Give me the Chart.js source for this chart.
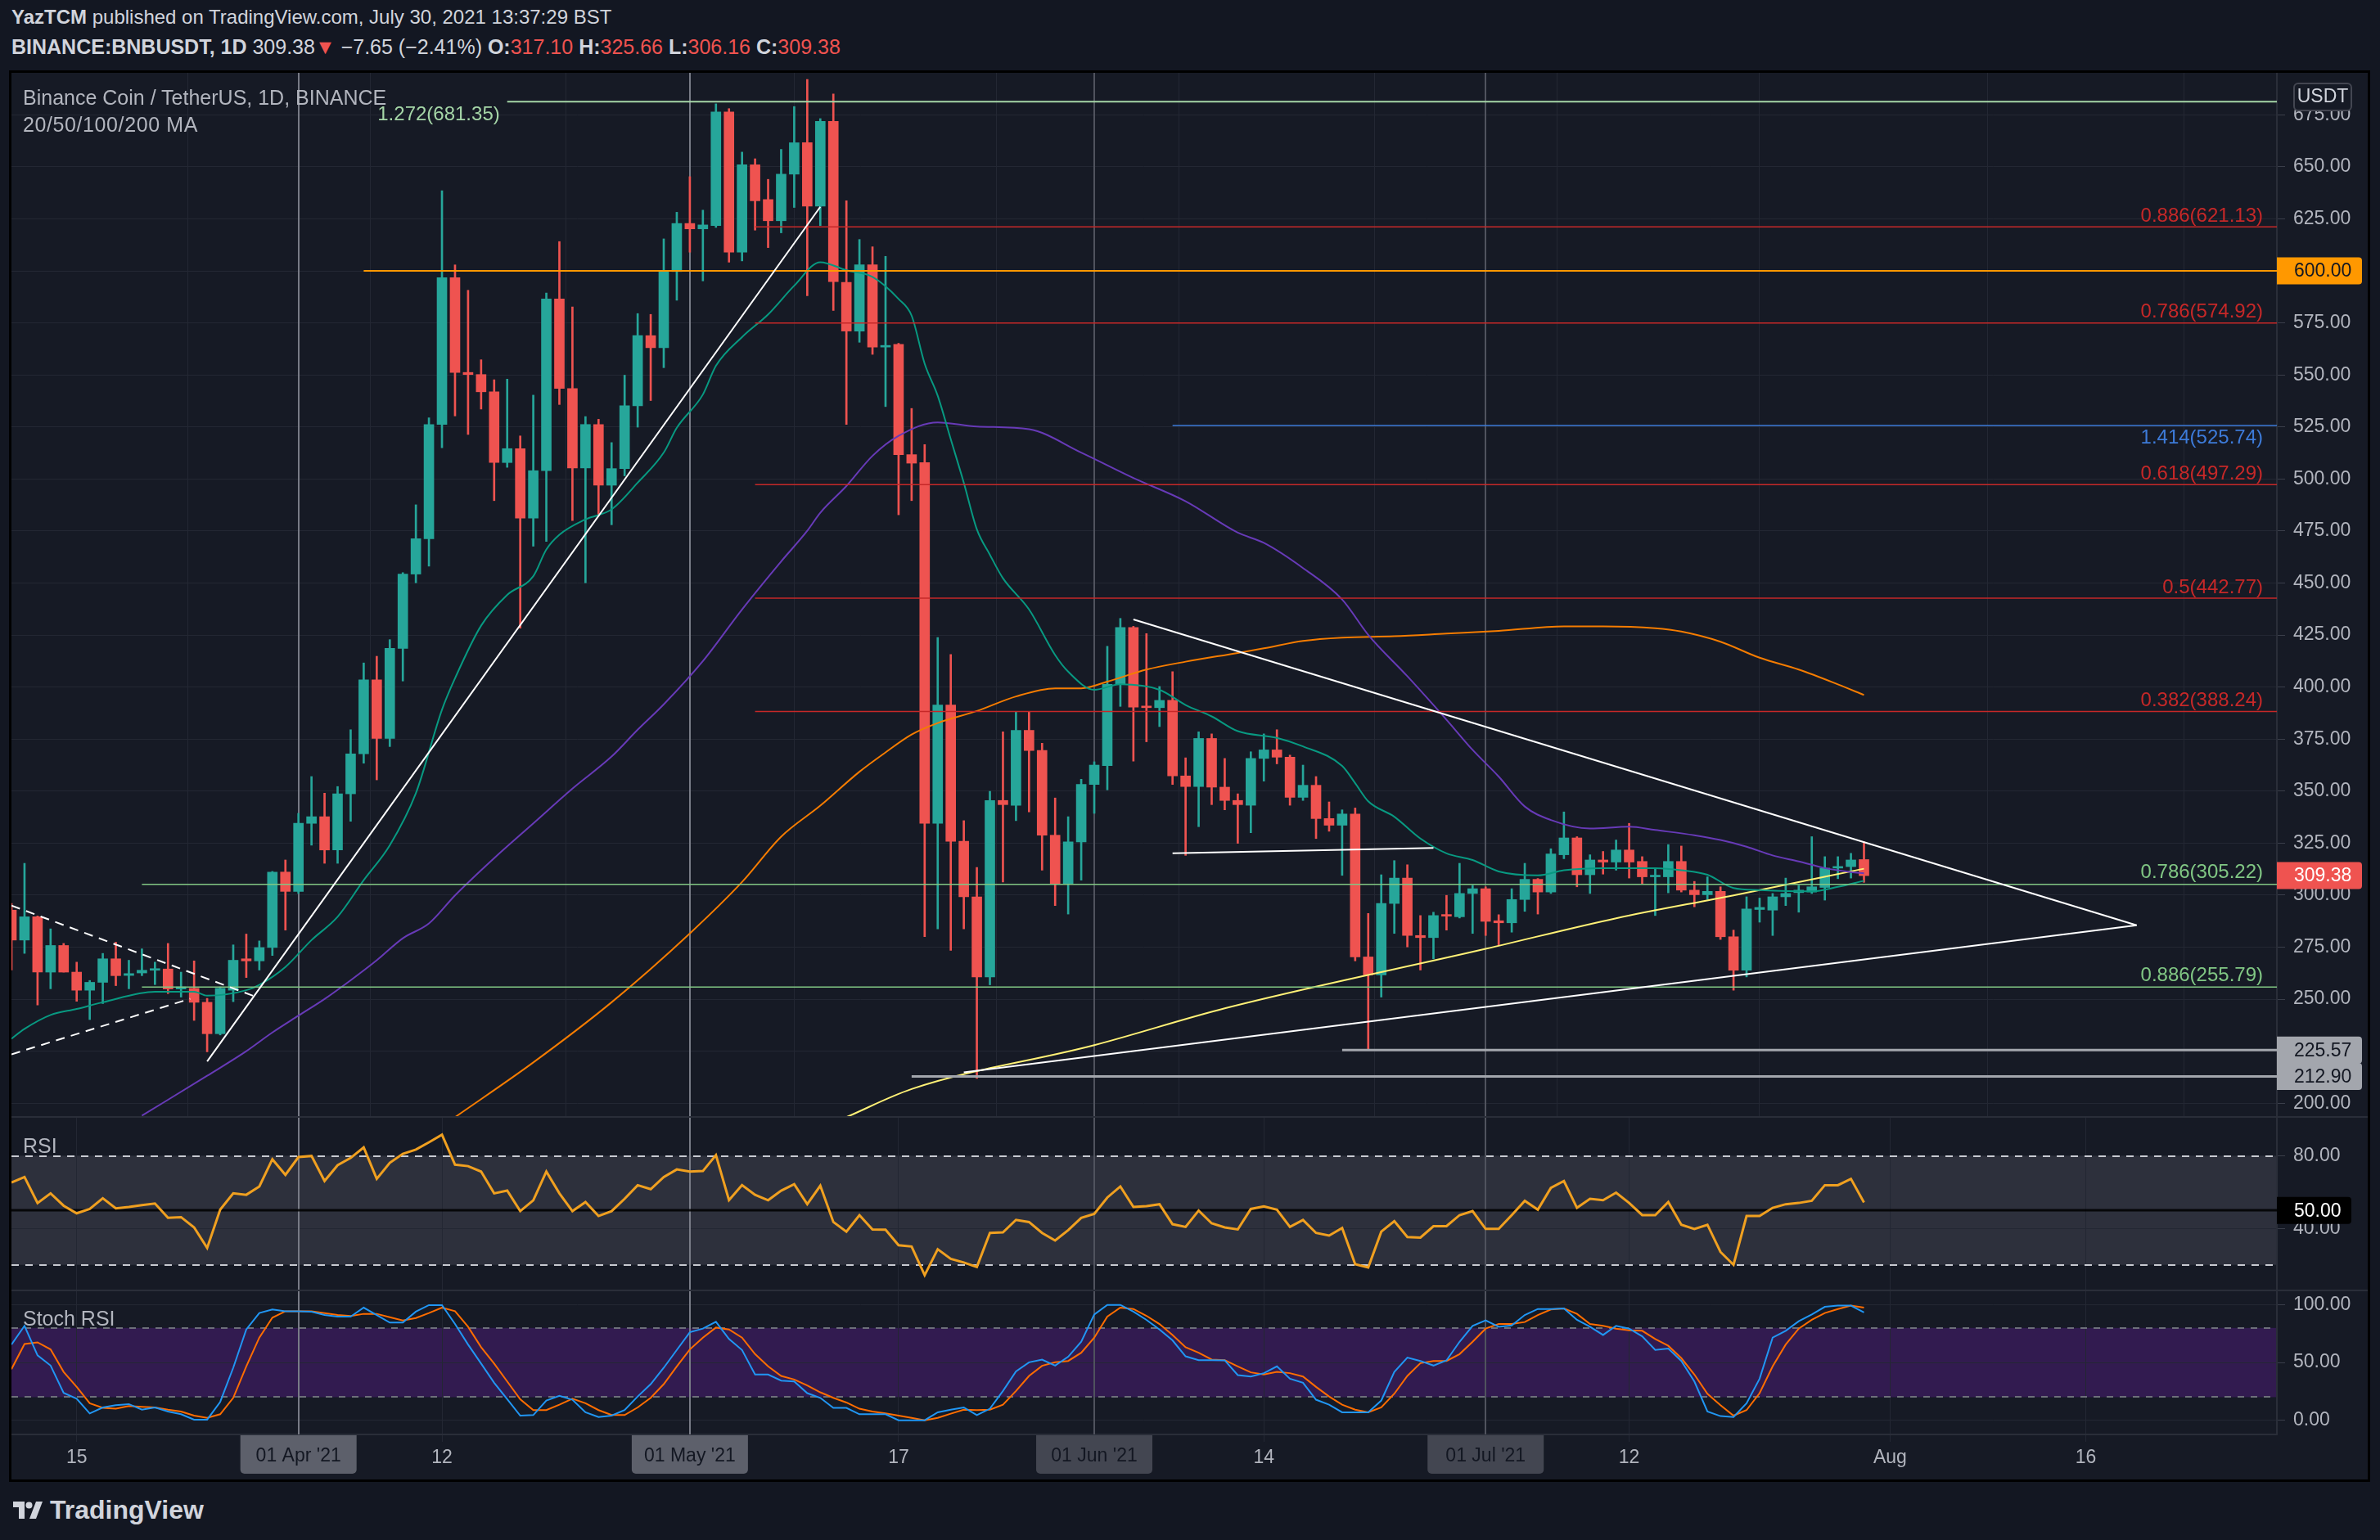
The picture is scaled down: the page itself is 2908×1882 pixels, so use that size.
<!DOCTYPE html>
<html lang="en">
<head>
<meta charset="utf-8">
<title>BNBUSDT 1D</title>
<script src="https://cdn.jsdelivr.net/npm/chart.js@4.4.1/dist/chart.umd.min.js"></script>
<style>
  html, body { margin: 0; padding: 0; }
  body { width: 2908px; height: 1882px; background: #131722; position: relative; overflow: hidden;
         font-family: "Liberation Sans", Arial, sans-serif; color: #d1d4dc; }
  .abs { position: absolute; }
  .hdr { left: 14px; line-height: 26px; white-space: nowrap; }
  .red { color: #ef5350; }
  #frame { left: 11px; top: 86px; width: 2879px; height: 1719px; border: 3px solid #000; background: #161a25; }
  .pane { left: 14px; width: 2879px; }
  .sep { left: 14px; width: 2879px; height: 2px; background: #2a2e39; }
  .legend { left: 28px; font-size: 25px; line-height: 28px; color: #b2b5be; white-space: nowrap; }
  #logo { left: 15px; top: 1829px; font-size: 32px; line-height: 32px; font-weight: bold; color: #d1d4dc; display: flex; align-items: center; gap: 8px; }
</style>
</head>
<body>
<div class="abs hdr" style="top:8px;font-size:24px"><b>YazTCM</b> published on TradingView.com, July 30, 2021 13:37:29 BST</div>
<div class="abs hdr" style="top:44px;font-size:25px"><b>BINANCE:BNBUSDT, 1D</b> 309.38<span class="red">▼</span> −7.65 (−2.41%) <b>O:</b><span class="red">317.10</span> <b>H:</b><span class="red">325.66</span> <b>L:</b><span class="red">306.16</span> <b>C:</b><span class="red">309.38</span></div>

<div id="frame" class="abs"></div>
<div class="abs pane" style="top:89px;height:1276px"><canvas id="mainChart"></canvas></div>
<div class="abs pane" style="top:1365px;height:212px"><canvas id="rsiChart"></canvas></div>
<div class="abs pane" style="top:1577px;height:231px"><canvas id="stochChart"></canvas></div>
<div class="abs sep" style="top:1364px"></div>
<div class="abs sep" style="top:1576px"></div>

<div class="abs legend" style="top:105px">Binance Coin / TetherUS, 1D, BINANCE</div>
<div class="abs legend" style="top:138px;letter-spacing:0.6px">20/50/100/200 MA</div>
<div class="abs legend" style="top:1386px">RSI</div>
<div class="abs legend" style="top:1597px">Stoch RSI</div>

<div id="logo" class="abs">
  <svg width="38" height="26" viewBox="0 0 38 26"><path d="M15 24H8V10H1V3h14v21zM29 24h-8L29 3h8L29 24z" fill="#d1d4dc"/><circle cx="20.5" cy="7.5" r="4" fill="#d1d4dc"/></svg>
  <span>TradingView</span>
</div>

<script>
// daily candles, 10 Mar 2021 (index 0) to 30 Jul 2021 (index 142)
const candleOpen = [
  292.8, 278.4, 289.6, 263.0, 275.8, 263.0, 254.3, 258.1, 269.4, 261.4,
  262.6, 263.9, 264.5, 254.9, 255.2, 248.5, 233.4, 254.3, 269.4, 268.4,
  274.8, 311.1, 301.8, 334.5, 337.7, 321.7, 348.7, 367.9, 403.5, 375.3,
  418.6, 454.3, 471.3, 526.2, 596.8, 551.2, 550.2, 541.9, 507.9, 514.6,
  481.2, 504.0, 586.5, 543.5, 505.3, 526.2, 497.0, 505.0, 535.2, 568.9,
  563.1, 599.7, 622.8, 620.2, 621.8, 676.4, 609.0, 651.0, 634.3, 624.1,
  646.5, 661.6, 631.1, 671.9, 594.5, 571.1, 602.9, 563.4, 564.7, 511.7,
  507.9, 334.5, 391.4, 325.9, 299.2, 260.7, 345.5, 343.2, 379.2, 369.5,
  328.8, 305.6, 325.6, 353.2, 362.2, 401.3, 428.6, 390.7, 390.1, 393.6,
  357.3, 352.2, 375.3, 351.9, 345.5, 343.2, 365.7, 369.8, 366.3, 347.0,
  352.8, 336.8, 333.6, 339.0, 270.3, 261.7, 296.0, 308.2, 280.6, 279.6,
  290.6, 289.6, 300.8, 303.1, 287.7, 286.7, 297.9, 307.6, 301.5, 319.4,
  327.5, 309.8, 316.9, 315.9, 321.7, 316.2, 308.8, 308.8, 316.2, 302.4,
  300.2, 301.8, 280.0, 263.9, 293.1, 292.8, 299.2, 301.2, 301.5, 303.7,
  313.0, 313.7, 317.10
];
const candleHigh = [
  296.0, 315.3, 290.0, 283.8, 276.8, 267.8, 259.0, 272.0, 277.4, 268.7,
  274.2, 267.8, 276.8, 263.0, 268.4, 250.4, 255.9, 276.1, 281.3, 278.0,
  311.4, 316.9, 339.3, 357.0, 349.0, 352.2, 379.5, 411.6, 414.8, 422.8,
  455.0, 487.6, 529.4, 638.5, 602.9, 590.7, 557.3, 547.7, 548.0, 520.7,
  540.3, 589.4, 614.1, 582.7, 530.0, 528.7, 517.5, 549.9, 579.5, 579.1,
  615.4, 628.2, 645.3, 629.2, 680.3, 678.0, 657.1, 653.9, 644.0, 658.4,
  679.0, 692.0, 673.2, 685.0, 633.7, 615.1, 611.6, 607.0, 565.2, 533.9,
  516.5, 423.8, 415.7, 335.8, 313.3, 349.9, 378.5, 388.1, 388.1, 373.0,
  346.7, 337.7, 355.7, 364.1, 419.6, 433.0, 429.2, 425.7, 400.3, 407.4,
  366.0, 378.5, 377.5, 365.7, 348.7, 368.9, 377.5, 379.5, 367.3, 362.5,
  357.0, 344.8, 341.0, 341.9, 291.2, 309.8, 316.6, 314.6, 290.2, 291.8,
  299.9, 315.3, 304.7, 304.0, 290.6, 303.1, 315.3, 308.0, 322.3, 340.0,
  328.1, 319.4, 321.0, 326.5, 334.5, 318.5, 313.0, 324.3, 323.6, 306.6,
  308.8, 304.0, 283.2, 299.2, 298.6, 300.8, 308.2, 304.7, 328.1, 318.5,
  318.5, 320.1, 325.66
];
const candleLow = [
  264.0, 272.0, 247.2, 255.0, 263.0, 249.0, 240.2, 247.9, 256.5, 255.0,
  261.3, 257.0, 252.7, 251.0, 239.8, 224.7, 232.8, 248.8, 260.4, 264.0,
  271.0, 283.2, 300.8, 324.0, 315.3, 315.3, 335.5, 363.4, 355.4, 371.4,
  402.9, 450.1, 458.1, 515.0, 530.3, 521.4, 533.6, 489.6, 505.6, 428.3,
  467.7, 470.0, 535.8, 480.0, 450.1, 482.2, 478.0, 501.5, 524.9, 537.7,
  553.5, 585.9, 609.0, 595.2, 620.9, 604.2, 604.8, 619.6, 611.2, 618.3,
  630.5, 588.1, 621.8, 581.0, 526.2, 565.7, 559.9, 534.8, 482.8, 489.6,
  280.0, 283.8, 273.5, 283.8, 211.9, 256.9, 306.3, 335.8, 340.0, 312.0,
  295.0, 290.9, 307.2, 339.3, 350.6, 390.7, 364.4, 373.7, 381.0, 353.2,
  319.1, 332.9, 343.5, 341.0, 324.9, 330.0, 354.8, 363.1, 343.2, 345.5,
  327.2, 330.7, 309.5, 268.4, 226.0, 251.0, 281.6, 275.1, 264.0, 269.4,
  283.2, 289.0, 281.6, 280.6, 275.8, 282.2, 292.2, 290.9, 300.8, 317.5,
  304.0, 300.8, 310.1, 312.0, 308.2, 305.6, 290.2, 301.1, 301.5, 294.4,
  297.9, 278.7, 254.3, 260.7, 287.0, 280.6, 295.0, 291.8, 300.8, 297.6,
  307.9, 308.2, 306.16
];
const candleClose = [
  278.4, 289.6, 263.0, 275.8, 263.0, 254.3, 258.1, 269.4, 261.3, 262.3,
  263.9, 264.2, 254.9, 255.9, 248.5, 233.4, 255.2, 268.7, 268.4, 274.8,
  311.1, 301.8, 334.5, 337.7, 321.7, 348.7, 367.9, 403.5, 375.3, 418.6,
  454.3, 471.3, 526.2, 596.8, 551.2, 550.2, 541.9, 507.9, 514.6, 481.2,
  504.0, 586.5, 543.5, 505.3, 526.2, 497.0, 505.0, 535.2, 568.9, 563.1,
  599.7, 622.8, 620.2, 622.1, 676.4, 609.0, 651.0, 633.7, 624.1, 646.5,
  661.6, 631.1, 671.9, 594.9, 571.1, 602.9, 563.4, 564.0, 511.7, 507.6,
  334.5, 391.4, 325.9, 299.2, 260.7, 345.5, 343.5, 379.2, 369.5, 328.8,
  305.6, 325.6, 353.2, 362.5, 401.3, 428.6, 390.4, 390.1, 393.6, 357.3,
  352.2, 375.3, 351.9, 345.5, 343.5, 365.7, 369.8, 366.3, 347.0, 352.8,
  336.8, 333.6, 339.0, 270.3, 261.7, 296.0, 308.2, 280.6, 279.6, 290.2,
  289.9, 300.8, 303.1, 287.4, 286.7, 297.9, 307.6, 301.5, 319.8, 327.5,
  309.8, 316.9, 315.9, 321.7, 315.9, 308.8, 309.5, 316.2, 302.4, 300.2,
  301.8, 280.0, 263.9, 293.4, 294.1, 299.2, 300.8, 302.4, 304.0, 313.0,
  313.7, 316.9, 309.38
];

// moving averages (day index -> value)
const ma20Days = [0, 1, 3, 5, 7, 11, 14, 15, 18, 19, 21, 23, 25, 27, 29, 31, 33, 34, 36, 38, 40, 41, 42, 44, 46, 48, 50, 51, 53, 54, 56, 58, 60, 62, 64, 66, 68, 69, 70, 71, 72, 73, 74, 75, 76, 78, 80, 81, 83, 85, 88, 90, 92, 94, 97, 99, 102, 103, 104, 106, 108, 110, 112, 114, 117, 119, 122, 126, 128, 130, 132, 134, 138, 140, 142];
const ma20 = [231, 235.7, 242.4, 245.3, 248.5, 253.6, 253.6, 251.7, 254.3, 256.9, 265.5, 278.4, 289.6, 307.2, 324, 349, 389.1, 404.2, 429.5, 444.3, 453.3, 466.1, 473.2, 480.6, 485.4, 498.2, 512.7, 524.6, 540.6, 554.4, 568.2, 579.1, 592.9, 604.2, 600.3, 597.1, 586.5, 578.5, 555.4, 540, 519.1, 498.2, 475.8, 463.6, 452.3, 437.3, 415.4, 407.4, 398.7, 401.3, 398.7, 391.4, 385.9, 378.8, 375.6, 371.5, 362.1, 353.8, 345.1, 337.7, 327.2, 320.1, 316.9, 311.4, 309.5, 312, 313, 313, 312, 309.8, 303.4, 302.4, 301.8, 304, 306.9];
const ma50Days = [10, 15, 18, 20, 22, 24, 26, 28, 30, 32, 34, 37, 40, 43, 46, 48, 50, 53, 56, 59, 61, 62, 64, 66, 68, 71, 74, 78, 82, 86, 90, 94, 96, 99, 102, 104, 107, 110, 112, 114, 116, 118, 121, 124, 126, 129, 131, 133, 135, 137, 139, 141, 142];
const ma50 = [194, 213.2, 225, 234, 242.1, 250.1, 259.1, 268.7, 279.3, 286.4, 299.9, 317.8, 334.5, 351.2, 366.6, 379.5, 391.7, 412.5, 437.3, 460.4, 475.1, 483.8, 496.6, 511.1, 520.7, 527.2, 525.2, 523.9, 512.7, 500.5, 489.3, 474.2, 469.3, 457.2, 442.1, 425.1, 405.2, 384.3, 369.8, 357, 342.6, 336.1, 332, 332.9, 331.3, 328.8, 326.5, 323.3, 319.1, 316.2, 313, 311.1, 310.5];
const ma100Days = [34, 40, 46, 52, 56, 59, 62, 65, 67, 69, 71, 74, 77, 80, 82, 84, 87, 90, 94, 96, 99, 102, 106, 110, 114, 119, 122, 126, 128, 131, 134, 137, 140, 142];
const ma100 = [193.3, 219.6, 248.5, 281.6, 306.3, 328.1, 343, 359.3, 368.6, 377.2, 382.7, 388.5, 395.5, 399.4, 399.4, 402.6, 408.4, 412.2, 416.4, 418.6, 422.2, 423.8, 424.4, 425.7, 427, 429.2, 429.2, 428.3, 426.7, 421.8, 414.1, 408.4, 401.3, 396.2];
const ma200Days = [64, 69, 83, 93, 113, 123, 132, 142];
const ma200 = [193.3, 206.8, 227.9, 245.6, 274.2, 288.9, 299.9, 312.7];

const rsiValues = [
  65.4, 68.4, 54.1, 59.4, 52.6, 48.4, 50.8, 56.7, 51.1, 51.9,
  52.9, 53.8, 45.9, 46.3, 40.6, 29.3, 50.4, 59.4, 58.6, 63.2,
  78.2, 69.6, 79.4, 80.0, 66.2, 74.9, 78.9, 84.7, 67.4, 76.2,
  81.2, 83.5, 87.5, 91.7, 75.2, 74.4, 71.4, 59.4, 60.9, 49.6,
  55.6, 71.4, 59.4, 49.6, 54.6, 46.9, 49.6, 56.4, 63.9, 61.7,
  68.4, 72.6, 71.4, 71.7, 80.5, 55.6, 63.9, 58.6, 55.6, 60.9,
  64.4, 53.4, 63.6, 43.6, 38.3, 47.4, 39.5, 39.4, 30.8, 30.1,
  14.3, 28.6, 23.3, 21.3, 18.8, 37.6, 37.9, 44.8, 43.6, 37.6,
  33.4, 39.1, 45.9, 48.1, 57.1, 63.2, 51.9, 52.3, 53.4, 42.4,
  40.9, 49.9, 42.9, 40.6, 39.5, 50.8, 52.2, 50.4, 40.9, 44.7,
  37.6, 36.1, 40.3, 20.3, 18.5, 38.3, 44.1, 35.3, 35.0, 41.3,
  41.3, 47.4, 49.6, 39.8, 39.8, 47.4, 55.3, 50.4, 62.4, 66.2,
  51.4, 56.4, 55.6, 59.8, 54.1, 47.4, 47.4, 54.6, 42.1, 39.8,
  42.1, 27.1, 20.0, 46.9, 46.9, 51.4, 53.4, 54.1, 55.3, 63.9,
  63.9, 67.4, 54.4
];
const stochK = [
  65.6, 81.8, 56.2, 47.4, 23.7, 18.7, 5.9, 11.1, 13.0, 14.0,
  9.2, 11.1, 7.6, 5.2, 0.5, 0.5, 15.9, 45.5, 78.7, 92.9,
  96.0, 94.5, 94.5, 94.1, 91.2, 89.8, 89.8, 97.6, 91.2, 84.6,
  84.6, 94.1, 99.8, 99.8, 83.4, 65.6, 49.1, 32.5, 18.2, 4.0,
  4.5, 17.1, 21.1, 17.8, 6.9, 2.8, 4.0, 8.8, 20.6, 31.3,
  45.5, 60.9, 76.3, 79.4, 85.3, 70.4, 60.9, 39.6, 39.6, 34.4,
  33.6, 23.5, 19.4, 10.7, 10.7, 5.2, 5.2, 5.2, 0, 0,
  0, 6.9, 9.2, 11.1, 4.5, 10.0, 25.4, 42.4, 50.2, 52.6,
  47.4, 55.0, 68.0, 91.7, 100, 100, 94.1, 87.0, 78.7, 69.2,
  55.4, 52.1, 52.1, 51.9, 39.1, 37.9, 40.8, 46.7, 36.0, 32.5,
  17.8, 13.5, 6.9, 6.9, 6.9, 17.1, 41.9, 54.3, 51.4, 47.4,
  51.9, 68.0, 81.8, 86.5, 81.0, 82.2, 91.2, 96.4, 96.4, 96.9,
  87.0, 81.0, 73.9, 81.8, 79.4, 72.7, 60.9, 62.1, 51.4, 33.6,
  7.6, 3.6, 2.8, 14.7, 36.0, 71.6, 77.5, 85.8, 91.7, 98.3,
  99.3, 99.3, 93.4
];
const stochD = [
  44.3, 66.1, 67.5, 61.4, 41.9, 28.9, 14.7, 10.7, 10.0, 12.3,
  11.6, 11.1, 9.2, 7.6, 4.0, 2.1, 5.2, 19.4, 46.7, 71.6,
  88.9, 94.5, 94.5, 94.5, 92.9, 91.2, 90.3, 92.2, 92.2, 89.3,
  86.5, 88.6, 92.9, 97.6, 94.5, 81.0, 63.3, 49.1, 33.6, 18.2,
  8.8, 8.8, 13.5, 18.7, 14.7, 8.8, 4.5, 4.5, 11.1, 19.4,
  31.3, 46.7, 61.4, 71.6, 80.3, 78.7, 71.6, 57.3, 46.7, 38.4,
  35.3, 30.1, 24.2, 19.4, 15.4, 10.0, 7.6, 5.9, 4.0, 2.1,
  0, 2.1, 5.7, 9.2, 8.8, 9.2, 13.5, 25.4, 38.4, 47.2,
  50.2, 51.4, 58.5, 71.6, 89.8, 97.6, 96.4, 90.5, 83.4, 73.9,
  63.3, 58.5, 52.6, 52.1, 46.7, 41.5, 39.6, 41.9, 40.8, 37.9,
  28.9, 20.6, 13.5, 9.2, 6.9, 11.1, 23.0, 38.4, 49.5, 51.4,
  51.4, 57.3, 68.0, 79.4, 83.4, 83.4, 85.1, 91.2, 96.0, 96.9,
  92.2, 83.4, 81.8, 79.4, 78.0, 77.5, 70.4, 64.5, 53.8, 39.6,
  23.0, 13.0, 4.0, 8.8, 23.5, 46.7, 65.6, 79.4, 87.0, 92.9,
  96.4, 99.3, 97.6
];

// axes
const priceTicks = [200, 225, 250, 275, 300, 325, 350, 375, 400, 425, 450, 475, 500, 525, 550, 575, 600, 625, 650, 675];
const rsiTicks = [40, 80];
const stochTicks = [0, 50, 100];
const xTickIdx = [5, 22, 33, 52, 68, 83, 96, 113, 124, 144, 159];
const xTickText = ['15', "01 Apr '21", '12', "01 May '21", '17', "01 Jun '21", '14', "01 Jul '21", '12', 'Aug', '16'];
const monthLineIdx = [22, 52, 83, 113];

// drawings
const fibLevels = [681.35, 621.13, 574.92, 525.74, 497.29, 442.77, 388.24, 305.22, 255.79];
const fibRatios = ['1.272', '0.886', '0.786', '1.414', '0.618', '0.5', '0.382', '0.786', '0.886'];
const fibFrom = [38, 57, 57, 89, 57, 57, 57, 10, 10];
const keyLevels = [600, 225.57, 212.90];
const keyFrom = [27, 102, 69];
const lastClose = 309.38;
const trendFrom = [[0, 295], [0, 223.5], [15, 220.1], [86, 432.5], [73, 214.8], [89, 320.1]];
const trendTo = [[18.7, 251.2], [13.7, 250.2], [62, 630.8], [162.9, 285.5], [162.9, 285.5], [109, 322.7]];

// ---- styles ----
const FONT = '"Liberation Sans", Arial, sans-serif';
const X_MIN = 0, X_MAX = 173.65;
const gridColor = '#232733';
const axisText = '#b2b5be';
const fibColor = ['#a5d6a7', '#c62828', '#c62828', '#3d7bd9', '#c62828', '#c62828', '#c62828', '#81c784', '#81c784'];
const fibLabelDy = [16, -13, -13, 15, -13, -13, -13, -14, -14];
const keyColor = ['#ff9800', '#a3a6ad', '#a3a6ad'];
const trendDash = [[11, 8], [11, 8], [], [], [], []];

const days = candleOpen.map((_, i) => i);
const candleColor = days.map(i => candleClose[i] >= candleOpen[i] ? '#26a69a' : '#ef5350');

function xScale(showLabels) {
  return {
    type: 'linear', min: X_MIN, max: X_MAX, offset: false,
    afterBuildTicks: s => { s.ticks = xTickIdx.map(v => ({ value: v })); },
    afterFit: s => { s.height = showLabels ? 55 : 0; s.paddingLeft = 0; s.paddingRight = 0; },
    grid: { color: gridColor, drawTicks: showLabels, tickLength: 9, tickColor: gridColor },
    border: { display: showLabels, color: '#2a2e39', width: 2 },
    ticks: {
      display: showLabels, color: axisText, font: { family: FONT, size: 23 }, padding: 6,
      maxRotation: 0, autoSkip: false,
      callback: (v, k) => monthLineIdx.includes(xTickIdx[k]) ? '' : xTickText[k]
    }
  };
}

function yScale(min, max, ticks) {
  return {
    position: 'right', min: min, max: max,
    afterBuildTicks: s => { s.ticks = ticks.map(v => ({ value: v })); },
    afterFit: s => { s.width = 111; s.paddingTop = 0; s.paddingBottom = 0; },
    grid: { color: gridColor, drawTicks: true, tickLength: 10, tickColor: '#3a3e4a' },
    border: { color: '#2a2e39', width: 2 },
    ticks: { color: axisText, font: { family: FONT, size: 23 }, padding: 10, callback: v => Number(v).toFixed(2) }
  };
}

const common = {
  responsive: true, maintainAspectRatio: false, animation: false, events: [],
  layout: { padding: 0 },
  plugins: { legend: { display: false }, tooltip: { enabled: false } }
};

function axisBox(ctx, left, cy, w, h, bg, fg, text) {
  ctx.fillStyle = bg;
  ctx.beginPath();
  if (ctx.roundRect) ctx.roundRect(left, cy - h / 2, w, h, [0, 4, 4, 0]); else ctx.rect(left, cy - h / 2, w, h);
  ctx.fill();
  ctx.fillStyle = fg;
  ctx.textAlign = 'left';
  ctx.textBaseline = 'middle';
  ctx.fillText(text, left + 21, cy + 1);
}

const monthLines = {
  id: 'monthLines',
  beforeDatasetsDraw(chart) {
    const { ctx, chartArea: a, scales: { x } } = chart;
    ctx.save();
    ctx.lineWidth = 2;
    monthLineIdx.forEach((d, k) => {
      const px = Math.round(x.getPixelForValue(d));
      ctx.strokeStyle = k < 2 ? '#787b86' : '#50535e';
      ctx.beginPath();
      ctx.moveTo(px, a.top);
      ctx.lineTo(px, a.bottom);
      ctx.stroke();
    });
    ctx.restore();
  }
};

function bandPlugin(hi, lo, fill, dashColor, dash) {
  return {
    id: 'band',
    beforeDraw(chart) {
      const { ctx, chartArea: a, scales: { y } } = chart;
      ctx.save();
      ctx.fillStyle = fill;
      ctx.fillRect(a.left, y.getPixelForValue(hi), a.width, y.getPixelForValue(lo) - y.getPixelForValue(hi));
      ctx.restore();
    },
    beforeDatasetsDraw(chart) {
      const { ctx, chartArea: a, scales: { y } } = chart;
      ctx.save();
      ctx.strokeStyle = dashColor;
      ctx.lineWidth = 2;
      ctx.setLineDash(dash);
      [hi, lo].forEach(v => {
        const py = Math.round(y.getPixelForValue(v));
        ctx.beginPath(); ctx.moveTo(a.left, py); ctx.lineTo(a.right, py); ctx.stroke();
      });
      ctx.restore();
    }
  };
}

// ---- main price pane ----
const mainLabels = {
  id: 'mainLabels',
  afterDatasetsDraw(chart) {
    const { ctx, chartArea: a, scales: { x, y } } = chart;
    ctx.save();
    ctx.font = `24px ${FONT}`;
    ctx.textBaseline = 'middle';
    ctx.textAlign = 'right';
    fibLevels.forEach((lv, k) => {
      ctx.fillStyle = fibColor[k];
      const tx = k === 0 ? x.getPixelForValue(fibFrom[k]) - 9 : a.right - 17;
      ctx.fillText(`${fibRatios[k]}(${lv.toFixed(2)})`, tx, y.getPixelForValue(lv) + fibLabelDy[k]);
    });
    ctx.restore();
  },
  afterDraw(chart) {
    const { ctx, scales: { y } } = chart;
    ctx.save();
    ctx.font = `23px ${FONT}`;
    axisBox(ctx, y.left, y.getPixelForValue(keyLevels[0]), 104, 33, '#ff9800', '#131722', keyLevels[0].toFixed(2));
    axisBox(ctx, y.left, y.getPixelForValue(lastClose), 104, 33, '#ef5350', '#ffffff', lastClose.toFixed(2));
    axisBox(ctx, y.left, y.getPixelForValue(keyLevels[1]), 104, 33, '#a3a6ad', '#131722', keyLevels[1].toFixed(2));
    axisBox(ctx, y.left, y.getPixelForValue(keyLevels[2]), 104, 33, '#a3a6ad', '#131722', keyLevels[2].toFixed(2));
    // currency badge
    ctx.fillStyle = '#161a25';
    ctx.strokeStyle = '#434651';
    ctx.lineWidth = 2;
    ctx.beginPath();
    if (ctx.roundRect) ctx.roundRect(y.left + 21, 13, 70, 33, 5); else ctx.rect(y.left + 21, 13, 70, 33);
    ctx.fill(); ctx.stroke();
    ctx.fillStyle = '#d1d4dc';
    ctx.textAlign = 'center';
    ctx.textBaseline = 'middle';
    ctx.fillText('USDT', y.left + 56, 30);
    ctx.restore();
  }
};

const lineDs = (pts, color, width, dash, order) => ({
  type: 'line', data: pts, borderColor: color, borderWidth: width, borderDash: dash || [],
  pointRadius: 0, tension: 0, order: order
});
const maDs = (dx, vals, color) => ({
  type: 'line', data: dx.map((d, k) => ({ x: d, y: vals[k] })), borderColor: color, borderWidth: 2,
  pointRadius: 0, cubicInterpolationMode: 'monotone', order: 2
});

const mainDatasets = [];
trendFrom.forEach((p, k) => {
  mainDatasets.push(lineDs([{ x: p[0], y: p[1] }, { x: trendTo[k][0], y: trendTo[k][1] }], '#ffffff', 2, trendDash[k], 0));
});
fibLevels.forEach((lv, k) => {
  mainDatasets.push(lineDs([{ x: fibFrom[k], y: lv }, { x: X_MAX, y: lv }], fibColor[k], k === 0 ? 2 : 1.5, [], 1));
});
keyLevels.forEach((lv, k) => {
  mainDatasets.push(lineDs([{ x: keyFrom[k], y: lv }, { x: X_MAX, y: lv }], keyColor[k], k === 0 ? 2 : 3, [], 1));
});
mainDatasets.push(maDs(ma20Days, ma20, '#089981'));
mainDatasets.push(maDs(ma50Days, ma50, '#673ab7'));
mainDatasets.push(maDs(ma100Days, ma100, '#f57c00'));
mainDatasets.push(maDs(ma200Days, ma200, '#fff176'));
mainDatasets.push({
  type: 'bar', data: days.map(i => ({ x: i, y: [candleOpen[i], candleClose[i]] })),
  backgroundColor: candleColor, barThickness: 12, minBarLength: 2, grouped: false, order: 3
});
mainDatasets.push({
  type: 'bar', data: days.map(i => ({ x: i, y: [candleLow[i], candleHigh[i]] })),
  backgroundColor: candleColor, barThickness: 2, grouped: false, order: 4
});

new Chart(document.getElementById('mainChart'), {
  type: 'bar',
  data: { datasets: mainDatasets },
  options: { ...common, scales: { x: xScale(false), y: yScale(193.4, 695.2, priceTicks) } },
  plugins: [monthLines, mainLabels]
});

// ---- RSI pane ----
const rsiBox = {
  id: 'rsiBox',
  beforeDatasetsDraw(chart) {
    const { ctx, chartArea: a, scales: { y } } = chart;
    const py = Math.round(y.getPixelForValue(50));
    ctx.save();
    ctx.strokeStyle = 'rgba(0,0,0,0.85)';
    ctx.lineWidth = 3;
    ctx.beginPath(); ctx.moveTo(a.left, py); ctx.lineTo(a.right, py); ctx.stroke();
    ctx.restore();
  },
  afterDraw(chart) {
    const { ctx, scales: { y } } = chart;
    ctx.save();
    ctx.font = `23px ${FONT}`;
    axisBox(ctx, y.left, y.getPixelForValue(50), 91, 33, '#000000', '#ffffff', '50.00');
    ctx.restore();
  }
};

new Chart(document.getElementById('rsiChart'), {
  type: 'line',
  data: { datasets: [{ data: days.map(i => ({ x: i, y: rsiValues[i] })), borderColor: '#f0a020', borderWidth: 3, pointRadius: 0, tension: 0 }] },
  options: { ...common, scales: { x: xScale(false), y: yScale(5.9, 101.5, rsiTicks) } },
  plugins: [bandPlugin(80, 20, '#2d303c', '#c8cad1', [9, 8]), monthLines, rsiBox]
});

// ---- Stoch RSI pane ----
const monthBoxes = {
  id: 'monthBoxes',
  afterDraw(chart) {
    const { ctx, chartArea: a, scales: { x } } = chart;
    ctx.save();
    ctx.font = `23px ${FONT}`;
    ctx.textAlign = 'center';
    ctx.textBaseline = 'middle';
    monthLineIdx.forEach((d, k) => {
      const px = x.getPixelForValue(d);
      ctx.fillStyle = k < 2 ? '#5d606b' : '#434651';
      ctx.beginPath();
      if (ctx.roundRect) ctx.roundRect(px - 71, a.bottom + 1, 142, 47, [0, 0, 5, 5]); else ctx.rect(px - 71, a.bottom + 1, 142, 47);
      ctx.fill();
      ctx.fillStyle = '#131722';
      ctx.fillText(xTickText[xTickIdx.indexOf(d)], px, a.bottom + 27);
    });
    ctx.restore();
  }
};

new Chart(document.getElementById('stochChart'), {
  type: 'line',
  data: {
    datasets: [
      { data: days.map(i => ({ x: i, y: stochK[i] })), borderColor: '#2196f3', borderWidth: 2, pointRadius: 0, tension: 0 },
      { data: days.map(i => ({ x: i, y: stochD[i] })), borderColor: '#ff6d00', borderWidth: 2, pointRadius: 0, tension: 0 }
    ]
  },
  options: { ...common, scales: { x: xScale(true), y: yScale(-12.3, 112.5, stochTicks) } },
  plugins: [bandPlugin(80, 20, '#321b50', '#6d6f7a', [8, 8]), monthLines, monthBoxes]
});
</script>
</body>
</html>
